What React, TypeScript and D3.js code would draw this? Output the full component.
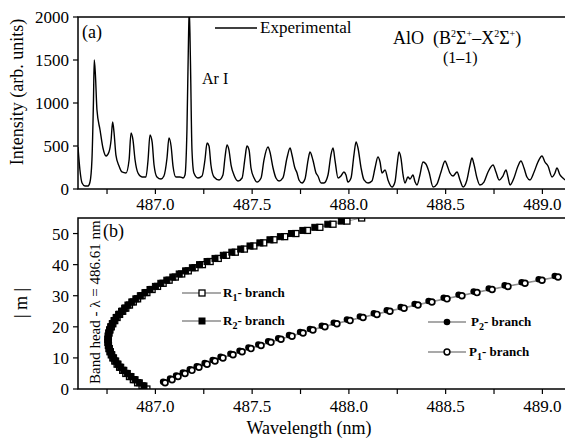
import React from "react";
import * as d3 from "d3";

// ---------- Panel (a): experimental spectrum ----------
const specWl = [
  486.600, 486.610, 486.621, 486.636, 486.652, 486.662, 486.672, 486.680, 486.684, 486.690,
  486.698, 486.714, 486.729, 486.745, 486.760, 486.771, 486.779, 486.786, 486.796, 486.812,
  486.827, 486.848, 486.864, 486.874, 486.884, 486.895, 486.910, 486.931, 486.951, 486.962,
  486.972, 486.983, 486.993, 487.008, 487.029, 487.044, 487.060, 487.070, 487.081, 487.091,
  487.106, 487.127, 487.143, 487.153, 487.163, 487.171, 487.175, 487.181, 487.189, 487.199,
  487.220, 487.241, 487.256, 487.267, 487.277, 487.287, 487.303, 487.329, 487.349, 487.360,
  487.370, 487.380, 487.391, 487.406, 487.427, 487.448, 487.463, 487.473, 487.484, 487.494,
  487.510, 487.525, 487.546, 487.561, 487.582, 487.592, 487.608, 487.623, 487.639, 487.659,
  487.680, 487.696, 487.706, 487.721, 487.732, 487.742, 487.758, 487.773, 487.789, 487.799,
  487.814, 487.830, 487.840, 487.856, 487.871, 487.892, 487.907, 487.918, 487.928, 487.944,
  487.959, 487.974, 487.985, 487.995, 488.011, 488.026, 488.037, 488.047, 488.063, 488.078,
  488.099, 488.119, 488.135, 488.150, 488.161, 488.171, 488.187, 488.202, 488.223, 488.238,
  488.249, 488.259, 488.269, 488.280, 488.290, 488.305, 488.316, 488.331, 488.342, 488.352,
  488.367, 488.383, 488.398, 488.414, 488.435, 488.455, 488.476, 488.497, 488.507, 488.522,
  488.538, 488.559, 488.574, 488.590, 488.610, 488.626, 488.636, 488.646, 488.662, 488.677,
  488.698, 488.719, 488.745, 488.760, 488.776, 488.796, 488.812, 488.822, 488.833, 488.853,
  488.874, 488.889, 488.905, 488.920, 488.936, 488.957, 488.977, 488.998, 489.013, 489.029,
  489.050, 489.065, 489.075, 489.091, 489.106, 489.117,
];
const specI = [
  488, 221, 70, 35, 35, 81, 337, 1035, 1500, 1326,
  919, 686, 477, 384, 430, 570, 779, 663, 395, 267,
  198, 186, 337, 651, 570, 337, 186, 140, 140, 337,
  628, 547, 279, 140, 116, 151, 360, 593, 500, 267,
  140, 140, 128, 163, 686, 1733, 2100, 1500, 454, 186,
  128, 151, 337, 535, 500, 279, 140, 105, 163, 372,
  512, 454, 279, 163, 93, 128, 360, 500, 454, 244,
  128, 81, 128, 337, 488, 430, 244, 128, 93, 128,
  360, 477, 395, 244, 186, 105, 70, 116, 337, 430,
  337, 186, 151, 70, 70, 163, 395, 477, 337, 128,
  151, 198, 163, 81, 128, 395, 547, 477, 244, 105,
  70, 93, 244, 372, 314, 186, 221, 105, 23, 81,
  279, 430, 360, 163, 70, 140, 116, 163, 81, 47,
  163, 314, 291, 198, 23, 58, 198, 326, 279, 186,
  151, 198, 105, 23, 105, 279, 360, 291, 128, 47,
  81, 198, 279, 198, 105, 151, 221, 140, 47, 128,
  267, 326, 244, 140, 105, 198, 314, 384, 314, 267,
  140, 186, 244, 163, 128, 105,
];

// ---------- Panel (b): branches, |m| vs wavelength ----------
const r1M = d3.range(0, 56);
const r1Wl = [
  486.956, 486.931, 486.908, 486.886, 486.866, 486.847, 486.831, 486.815, 486.802, 486.790,
  486.780, 486.772, 486.765, 486.760, 486.757, 486.755, 486.755, 486.757, 486.760, 486.765,
  486.772, 486.780, 486.790, 486.802, 486.815, 486.831, 486.847, 486.866, 486.886, 486.908,
  486.931, 486.956, 486.983, 487.011, 487.040, 487.071, 487.103, 487.136, 487.170, 487.205,
  487.243, 487.283, 487.325, 487.368, 487.413, 487.460, 487.509, 487.560, 487.613, 487.668,
  487.726, 487.786, 487.850, 487.918, 487.990, 488.066,
];
const r2M = d3.range(1, 55);
const r2Wl = [
  486.941, 486.917, 486.895, 486.874, 486.855, 486.837, 486.821, 486.807, 486.795,
  486.784, 486.775, 486.768, 486.762, 486.758, 486.756, 486.755, 486.756, 486.759, 486.763,
  486.769, 486.777, 486.786, 486.797, 486.810, 486.825, 486.841, 486.858, 486.878, 486.899,
  486.922, 486.946, 486.972, 487.000, 487.028, 487.059, 487.090, 487.123, 487.156, 487.191,
  487.228, 487.267, 487.308, 487.351, 487.395, 487.441, 487.489, 487.540, 487.592, 487.646,
  487.703, 487.762, 487.824, 487.891, 487.961,
];
const pM = d3.range(2, 37);
const p1Wl = [
  487.050, 487.086, 487.117, 487.153, 487.189, 487.225, 487.267, 487.308, 487.349, 487.401,
  487.448, 487.494, 487.546, 487.597, 487.649, 487.706, 487.763, 487.814, 487.876, 487.938,
  488.006, 488.073, 488.145, 488.212, 488.285, 488.357, 488.429, 488.507, 488.584, 488.662,
  488.740, 488.822, 488.910, 488.998, 489.081,
];
const p2Wl = [
  487.040, 487.076, 487.107, 487.142, 487.178, 487.214, 487.255, 487.296, 487.337, 487.388,
  487.435, 487.481, 487.532, 487.583, 487.635, 487.691, 487.748, 487.799, 487.860, 487.922,
  487.990, 488.057, 488.129, 488.196, 488.268, 488.340, 488.412, 488.490, 488.567, 488.645,
  488.723, 488.805, 488.893, 488.981, 489.064,
];

const xTicksMajor = [487.0, 487.5, 488.0, 488.5, 489.0];
const xTicksAll = [486.75, 487.0, 487.25, 487.5, 487.75, 488.0, 488.25, 488.5, 488.75, 489.0];
const yTopTicks = [0, 500, 1000, 1500, 2000];
const yBotTicks = [0, 10, 20, 30, 40, 50];

const FONT = "'Liberation Serif', 'Times New Roman', serif";

export default function App() {
  const W = 565, H = 438;
  const x = d3.scaleLinear().domain([486.6, 489.122]).range([78, 566]);
  const yA = d3.scaleLinear().domain([0, 2000]).range([189, 17]);
  const yB = d3.scaleLinear().domain([0, 55]).range([389, 218]);

  const specLine = d3
    .line<number>()
    .x((_, i) => x(specWl[i]))
    .y((d) => yA(d))
    .curve(d3.curveMonotoneX)(specI) as string;

  const mkLine = (wl: number[], ms: number[]) =>
    d3
      .line<number>()
      .x((d) => x(d))
      .y((_, i) => yB(ms[i]))(wl) as string;

  const sq = 6;
  const lineCol = "#777";

  const xAxis = (yBase: number, labelY: number) => (
    <g>
      {xTicksAll.map((t) => (
        <line key={"t" + t} x1={x(t)} x2={x(t)} y1={yBase} y2={yBase + 5} stroke="#000" strokeWidth={1.2} />
      ))}
      {xTicksMajor.map((t) => (
        <text key={"l" + t} x={x(t)} y={labelY} textAnchor="middle" fontSize={17} fontFamily={FONT}>
          {t.toFixed(1)}
        </text>
      ))}
    </g>
  );

  return (
    <svg width={W} height={H} style={{ position: "absolute", left: 0, top: 0, background: "#fff" }}>
      <defs>
        <clipPath id="clipA">
          <rect x={78} y={17} width={490} height={172} />
        </clipPath>
        <clipPath id="clipB">
          <rect x={78} y={218} width={490} height={171} />
        </clipPath>
      </defs>
      <rect x={0} y={0} width={W} height={H} fill="#fff" />

      {/* ---------- Panel (a) ---------- */}
      <path d={specLine} fill="none" stroke="#000" strokeWidth={1.4} clipPath="url(#clipA)" strokeLinejoin="round" />
      <rect x={78} y={17} width={490} height={172} fill="none" stroke="#000" strokeWidth={1.5} />
      {yTopTicks.map((t) => (
        <g key={t}>
          <line x1={73} x2={78} y1={yA(t)} y2={yA(t)} stroke="#000" strokeWidth={1.2} />
          <text x={69} y={yA(t) + 6} textAnchor="end" fontSize={17} fontFamily={FONT}>
            {t}
          </text>
        </g>
      ))}
      {xAxis(189, 210)}
      <text
        transform="translate(23,92) rotate(-90)"
        textAnchor="middle"
        fontSize={18}
        fontFamily={FONT}
      >
        Intensity (arb. units)
      </text>
      <text x={82} y={38} fontSize={18} fontFamily={FONT}>(a)</text>
      <text x={202} y={84} fontSize={16} fontFamily={FONT}>Ar I</text>
      <line x1={215} x2={257} y1={28} y2={28} stroke="#000" strokeWidth={1.6} />
      <text x={260} y={33} fontSize={17} fontFamily={FONT}>Experimental</text>
      <text x={393} y={44} fontSize={18} fontFamily={FONT}>
        AlO{"\u00a0\u00a0"}(B
        <tspan fontSize={10} dy={-7}>2</tspan>
        <tspan dy={7}>Σ</tspan>
        <tspan fontSize={10} dy={-7}>+</tspan>
        <tspan dy={7}>–X</tspan>
        <tspan fontSize={10} dy={-7}>2</tspan>
        <tspan dy={7}>Σ</tspan>
        <tspan fontSize={10} dy={-7}>+</tspan>
        <tspan dy={7}>)</tspan>
      </text>
      <text x={443} y={63} fontSize={16} fontFamily={FONT}>(1–1)</text>

      {/* ---------- Panel (b) ---------- */}
      <g clipPath="url(#clipB)">
        <path d={mkLine(r1Wl, r1M)} fill="none" stroke={lineCol} strokeWidth={0.8} />
        <path d={mkLine(r2Wl, r2M)} fill="none" stroke={lineCol} strokeWidth={0.8} />
        <path d={mkLine(p2Wl, pM)} fill="none" stroke={lineCol} strokeWidth={0.8} />
        <path d={mkLine(p1Wl, pM)} fill="none" stroke={lineCol} strokeWidth={0.8} />
        {r1Wl.map((w, i) => (
          <rect key={"r1" + i} x={x(w) - sq / 2} y={yB(r1M[i]) - sq / 2} width={sq} height={sq} fill="#fff" stroke="#000" strokeWidth={1.3} />
        ))}
        {r2Wl.map((w, i) => (
          <rect key={"r2" + i} x={x(w) - sq / 2} y={yB(r2M[i]) - sq / 2} width={sq} height={sq} fill="#000" stroke="#000" strokeWidth={1} />
        ))}
        {p2Wl.map((w, i) => (
          <circle key={"p2" + i} cx={x(w)} cy={yB(pM[i]) - 1} r={3.3} fill="#000" />
        ))}
        {p1Wl.map((w, i) => (
          <circle key={"p1" + i} cx={x(w)} cy={yB(pM[i])} r={2.9} fill="#fff" stroke="#000" strokeWidth={1.7} />
        ))}
      </g>
      <text transform="translate(100,384) rotate(-90)" fontSize={15} fontFamily={FONT}>
        Band head - λ = 486.61 nm
      </text>
      <rect x={78} y={218} width={490} height={171} fill="none" stroke="#000" strokeWidth={1.5} />
      {yBotTicks.map((t) => (
        <g key={t}>
          <line x1={73} x2={78} y1={yB(t)} y2={yB(t)} stroke="#000" strokeWidth={1.2} />
          <text x={69} y={yB(t) + 6} textAnchor="end" fontSize={17} fontFamily={FONT}>
            {t}
          </text>
        </g>
      ))}
      {xAxis(389, 412)}
      <text transform="translate(27,303) rotate(-90)" textAnchor="middle" fontSize={18} fontFamily={FONT}>
        | m |
      </text>
      <text x={309} y={434} textAnchor="middle" fontSize={18} fontFamily={FONT}>
        Wavelength (nm)
      </text>
      <text x={103} y={237} fontSize={18} fontFamily={FONT}>(b)</text>

      {/* legend (b) */}
      <g fontFamily={FONT} fontWeight="bold" fontSize={13}>
        <line x1={182} x2={221} y1={293} y2={293} stroke="#555" strokeWidth={1.2} />
        <rect x={202 - sq / 2} y={293 - sq / 2} width={sq} height={sq} fill="#fff" stroke="#000" strokeWidth={1.3} />
        <text x={223} y={297}>
          R<tspan fontSize={10} dy={4}>1</tspan>
          <tspan dy={-4}>- branch</tspan>
        </text>
        <line x1={182} x2={221} y1={321} y2={321} stroke="#555" strokeWidth={1.2} />
        <rect x={202 - sq / 2} y={321 - sq / 2} width={sq} height={sq} fill="#000" stroke="#000" />
        <text x={223} y={325}>
          R<tspan fontSize={10} dy={4}>2</tspan>
          <tspan dy={-4}>- branch</tspan>
        </text>
        <line x1={428} x2={466} y1={322} y2={322} stroke="#555" strokeWidth={1.2} />
        <circle cx={447} cy={322} r={3.3} fill="#000" />
        <text x={471} y={326}>
          P<tspan fontSize={10} dy={4}>2</tspan>
          <tspan dy={-4}>- branch</tspan>
        </text>
        <line x1={428} x2={466} y1={352} y2={352} stroke="#555" strokeWidth={1.2} />
        <circle cx={447} cy={352} r={2.9} fill="#fff" stroke="#000" strokeWidth={1.5} />
        <text x={469} y={356}>
          P<tspan fontSize={10} dy={4}>1</tspan>
          <tspan dy={-4}>- branch</tspan>
        </text>
      </g>
    </svg>
  );
}
